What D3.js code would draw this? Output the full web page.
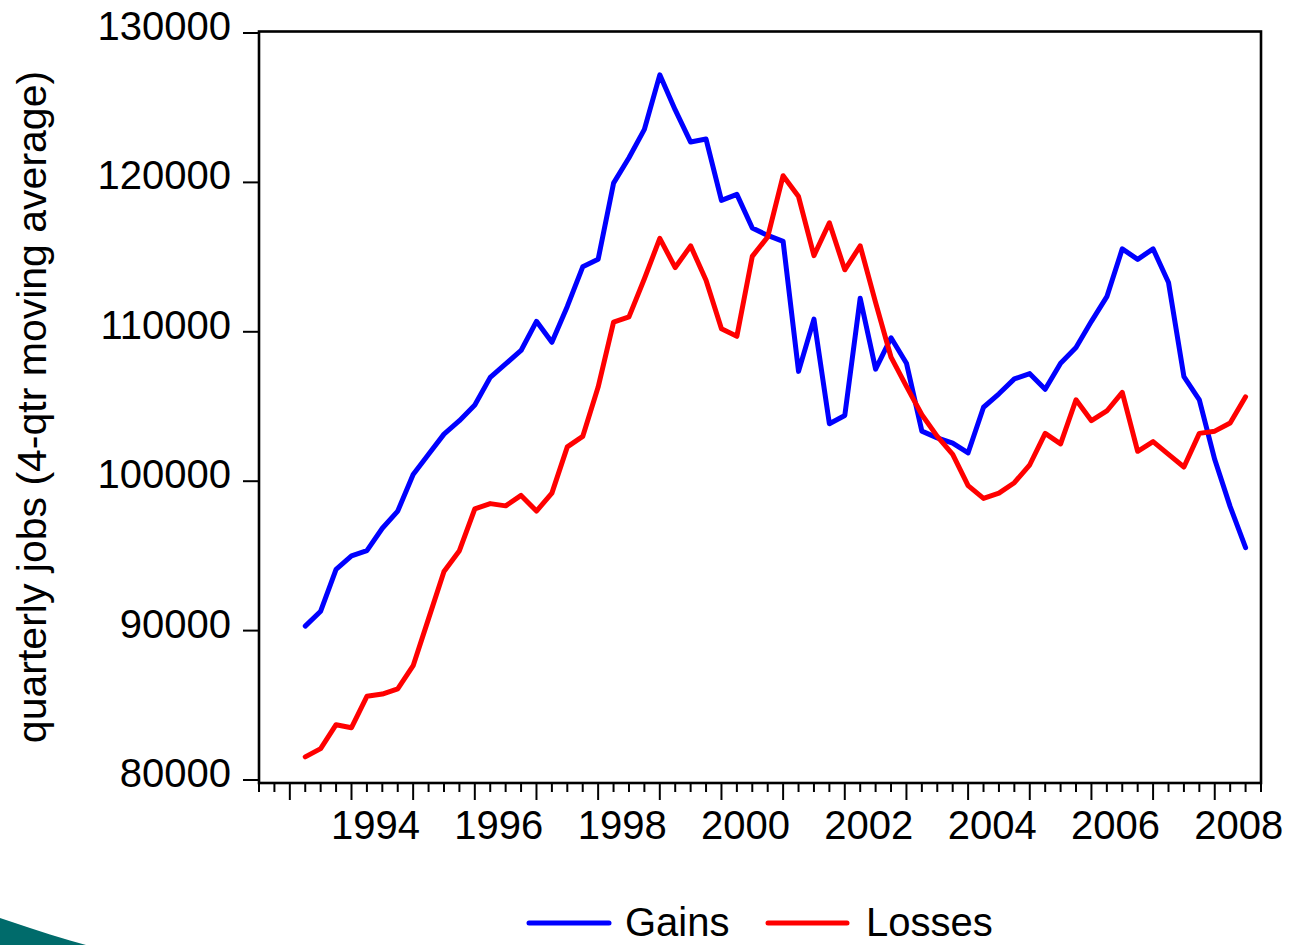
<!DOCTYPE html>
<html>
<head>
<meta charset="utf-8">
<script src="https://cdn.jsdelivr.net/npm/d3@7"></script>
<style>
  html, body { margin: 0; padding: 0; background: #fff; }
  svg { display: block; font-family: "Liberation Sans", Arial, sans-serif; }
</style>
</head>
<body>
<svg id="chart" width="1290" height="945"></svg>
<script>
// ---- data (4-quarter moving averages, 1993Q2 .. 2008Q3) ----
const startYear = 1993;
const startQuarter = 2;
const gains = [
  90300, 91300, 94100, 95000, 95350, 96850, 98000, 100450, 101800, 103150,
  104050, 105100, 106950, 107850, 108750, 110700, 109300, 111700, 114350, 114850,
  119950, 121650, 123550, 127200, 124850, 122700, 122900, 118800, 119200, 116950,
  116450, 116050, 107350, 110850, 103850, 104400, 112250, 107500, 109600, 107900,
  103350, 102900, 102550, 101900, 104950, 105850, 106850, 107200, 106150, 107900,
  108950, 110700, 112350, 115550, 114850, 115550, 113300, 107000, 105450, 101450,
  98300, 95550
];
const losses = [
  81550, 82100, 83700, 83500, 85600, 85750, 86100, 87650, 90800, 93950,
  95350, 98150, 98500, 98350, 99050, 98000, 99200, 102300, 103000, 106300,
  110650, 111000, 113550, 116250, 114300, 115750, 113450, 110200, 109700, 115050,
  116350, 120450, 119050, 115100, 117300, 114150, 115750, 111950, 108300, 106350,
  104450, 103000, 101800, 99700, 98850, 99200, 99900, 101100, 103200, 102500,
  105450, 104050, 104700, 105950, 102000, 102650, 101800, 100950, 103200, 103350,
  103900, 105650
];
const yTicks = [80000, 90000, 100000, 110000, 120000, 130000];
const xLabels = ["1994", "1996", "1998", "2000", "2002", "2004", "2006", "2008"];
const axisStart = 1992.5;   // 1992Q3
const axisEnd = 2008.75;    // 2008Q4
const seriesNames = ["Gains", "Losses"];
const seriesColors = ["#0000ff", "#ff0000"];

(function () {
// ---- layout ----
const svg = d3.select("#chart");
const pL = 259, pR = 1261, pT = 31.5, pB = 783;
const x = d3.scaleLinear().domain([axisStart, axisEnd]).range([pL, pR]);
const y = d3.scaleLinear().domain([80000, 130000]).range([780, 33]);

const timeOf = i => startYear + (startQuarter - 1) / 4 + i * 0.25;

// frame
svg.append("rect")
  .attr("x", pL).attr("y", pT)
  .attr("width", pR - pL).attr("height", pB - pT)
  .attr("fill", "none").attr("stroke", "#000").attr("stroke-width", 2.6);

// y ticks + labels
const yg = svg.append("g");
yTicks.forEach(v => {
  yg.append("line")
    .attr("x1", pL - 16).attr("x2", pL)
    .attr("y1", y(v)).attr("y2", y(v))
    .attr("stroke", "#000").attr("stroke-width", 2);
  yg.append("text")
    .attr("x", 231).attr("y", y(v) + 7)
    .attr("text-anchor", "end")
    .attr("font-size", 40).attr("fill", "#000")
    .text(v);
});

// x ticks (quarterly; long at Q1)
const xg = svg.append("g");
const quarterTicks = d3.range(axisStart, axisEnd + 0.001, 0.25);
quarterTicks.forEach(t => {
  const isYear = Math.abs(t - Math.round(t)) < 1e-6;
  xg.append("line")
    .attr("x1", x(t)).attr("x2", x(t))
    .attr("y1", pB).attr("y2", pB + (isYear ? 17 : 9))
    .attr("stroke", "#000").attr("stroke-width", 2);
});
xLabels.forEach(lbl => {
  xg.append("text")
    .attr("x", x(+lbl + 0.39)).attr("y", 839)
    .attr("text-anchor", "middle")
    .attr("font-size", 40).attr("fill", "#000")
    .text(lbl);
});

// y axis title
svg.append("text")
  .attr("transform", "translate(46,407) rotate(-90)")
  .attr("text-anchor", "middle")
  .attr("font-size", 41).attr("fill", "#000")
  .text("quarterly jobs (4-qtr moving average)");

// lines
const line = d3.line()
  .x((d, i) => x(timeOf(i)))
  .y(d => y(d))
  .curve(d3.curveLinear);

[gains, losses].forEach((s, k) => {
  svg.append("path")
    .datum(s)
    .attr("d", line)
    .attr("fill", "none")
    .attr("stroke", seriesColors[k])
    .attr("stroke-width", 5)
    .attr("stroke-linejoin", "round")
    .attr("stroke-linecap", "round");
});

// legend
const legend = svg.append("g");
const legendItems = [
  { x1: 529, x2: 609, tx: 625 },
  { x1: 768, x2: 847, tx: 866 }
];
legendItems.forEach((it, k) => {
  legend.append("line")
    .attr("x1", it.x1).attr("x2", it.x2)
    .attr("y1", 923).attr("y2", 923)
    .attr("stroke", seriesColors[k]).attr("stroke-width", 5)
    .attr("stroke-linecap", "round");
  legend.append("text")
    .attr("x", it.tx).attr("y", 936)
    .attr("font-size", 40).attr("fill", "#000")
    .text(seriesNames[k]);
});

// teal logo fragment bottom-left
svg.append("path")
  .attr("d", "M0,918 L12,922 L30,928 L50,934.5 L70,940.5 L86,945 L0,945 Z")
  .attr("fill", "#006b6b");
})();
</script>
</body>
</html>
